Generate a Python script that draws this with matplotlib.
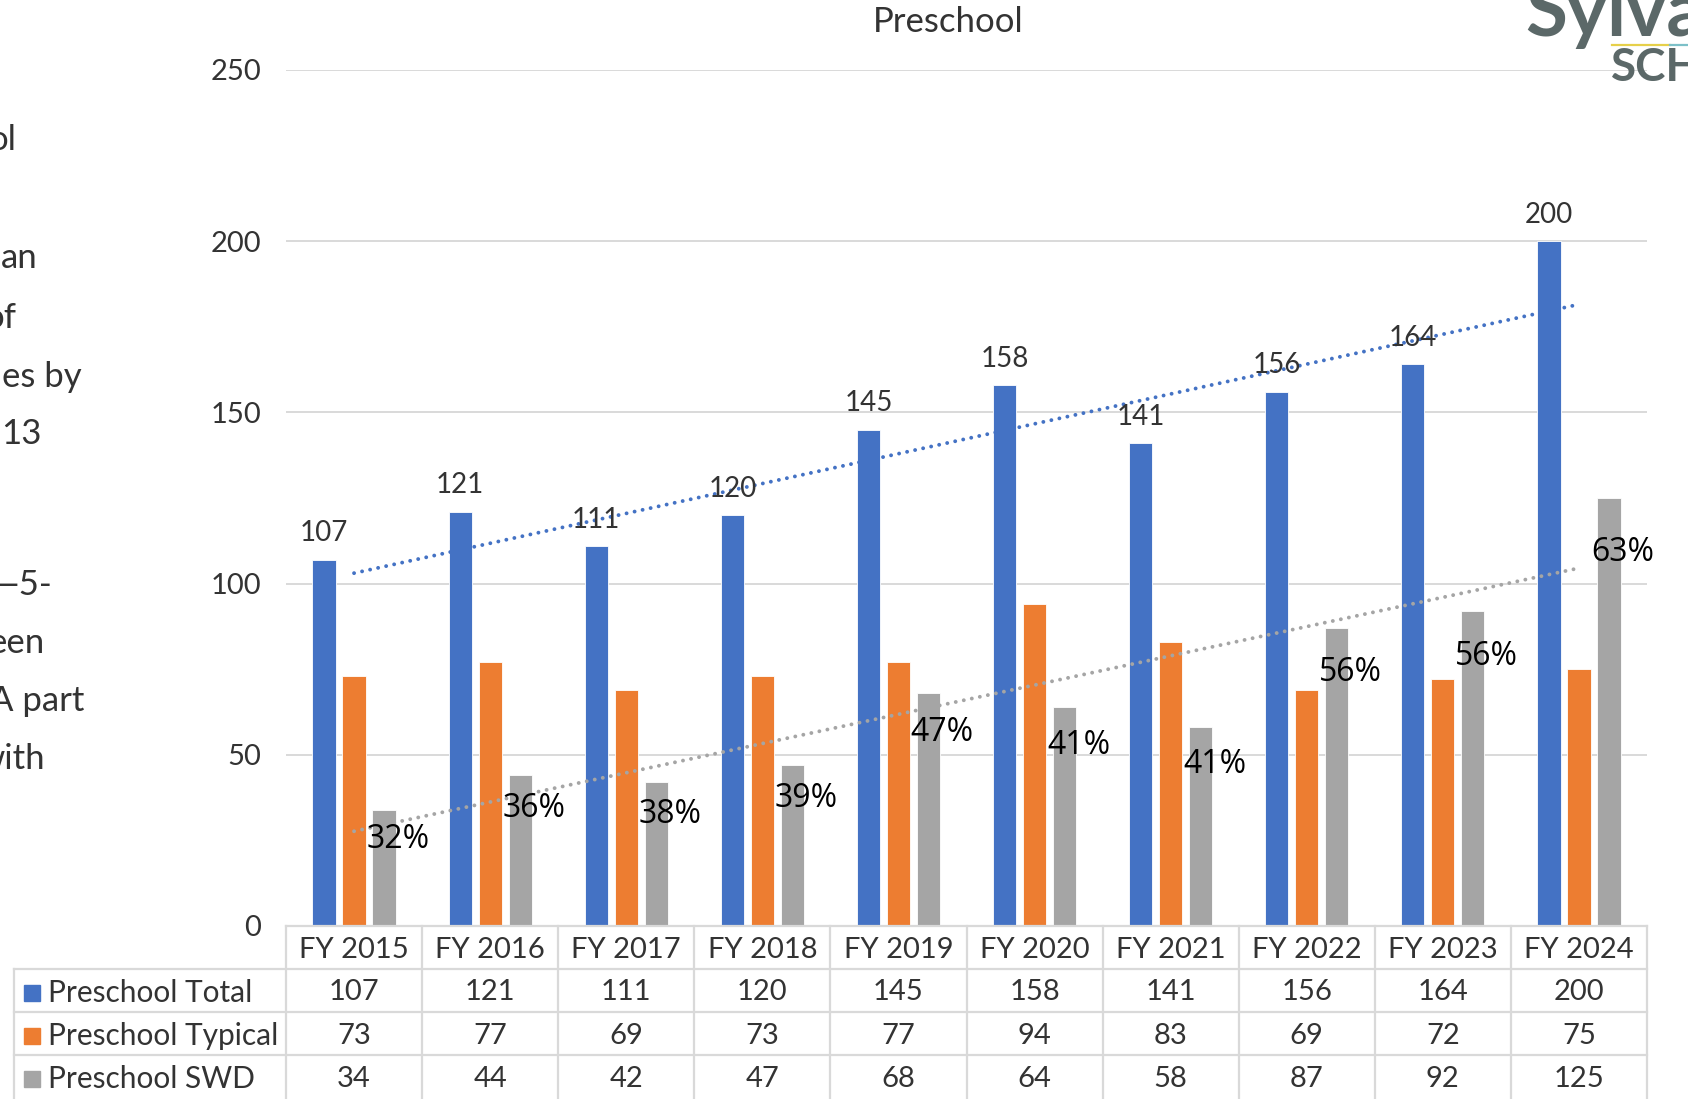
import numpy as np
import matplotlib.pyplot as plt
import matplotlib.transforms as mtransforms
from matplotlib.lines import Line2D
from matplotlib.patches import Rectangle

# Preschool enrollment by fiscal year
years = ['FY 2015', 'FY 2016', 'FY 2017', 'FY 2018', 'FY 2019',
         'FY 2020', 'FY 2021', 'FY 2022', 'FY 2023', 'FY 2024']
total = [107, 121, 111, 120, 145, 158, 141, 156, 164, 200]
typical = [73, 77, 69, 73, 77, 94, 83, 69, 72, 75]
swd = [34, 44, 42, 47, 68, 64, 58, 87, 92, 125]
series_names = ['Preschool Total', 'Preschool Typical', 'Preschool SWD']
colors = ['#4472C4', '#ED7D31', '#A5A5A5']

# cut-off slide text on the left edge
side_text = ['ol', 'an', 'of', 'es by', '13', '—5-', 'een', 'A part', 'with']
side_right = [16, 38, 16, 82, 42, 52, 45, 84, 45]
side_y = [140, 258, 318, 377, 434, 585, 643, 701, 759]

W, H = 1688, 1099
FONT = 'Lato'
TXT = '#333333'
GRID = '#d9d9d9'

fig = plt.figure(figsize=(W / 100, H / 100), dpi=100)
ax = fig.add_axes([286 / W, 1 - 926 / H, (1647 - 286) / W, (926 - 70) / H])

x = np.arange(len(years))
bw = 0.171
step = 0.2205
for i, (vals, c) in enumerate(zip([total, typical, swd], colors)):
    ax.bar(x + (i - 1) * step, vals, bw, color=c, edgecolor='white',
           linewidth=0.6, zorder=2)

ax.set_xlim(-0.5, 9.5)
ax.set_ylim(0, 250)
ax.set_yticks(range(0, 251, 50))
ax.grid(axis='y', color=GRID, lw=1.4, zorder=0)
for s in ['top', 'right', 'left']:
    ax.spines[s].set_visible(False)
ax.spines['bottom'].set_color(GRID)
ax.spines['bottom'].set_linewidth(1.6)
ax.set_xticks([])
ax.tick_params(axis='y', length=0, pad=18, labelsize=21, labelcolor=TXT)
for lab in ax.get_yticklabels():
    lab.set_fontfamily(FONT)

# linear trend lines for total and SWD
for vals, c in [(total, colors[0]), (swd, colors[2])]:
    k, b = np.polyfit(x, vals, 1)
    ax.plot(x, k * x + b, color=c, lw=2.8, linestyle=(0, (0.01, 2.1)),
            dash_capstyle='round', zorder=3)

# value labels above the total bars
for xi, v in zip(x, total):
    ax.annotate(str(v), (xi - step, v), xytext=(0, 19), textcoords='offset points',
                ha='center', va='center', fontsize=20, color=TXT,
                family=FONT, zorder=4)

# SWD share of total, placed near the grey bars
for xi, s, t in zip(x, swd, total):
    pct = int(s / t * 100 + 0.5)
    dy = -(21 + 0.27 * s) * 0.72
    ax.annotate(f'{pct}%', (xi + step, s), xytext=(10, dy), textcoords='offset points',
                ha='center', va='center', fontsize=23, color='black',
                family='Open Sans', zorder=4)

# title
fig.text(948 / W, 1 - 22 / H, 'Preschool', ha='center', va='center',
         fontsize=25, color=TXT, family=FONT)

# data table under the chart
row_edges = [926, 969, 1012, 1055, 1099]
tx = mtransforms.blended_transform_factory(ax.transData, fig.transFigure)
for xb in np.arange(-0.5, 10, 1):
    fig.add_artist(Line2D([xb, xb], [1 - 926 / H, 0], transform=tx,
                          color=GRID, lw=1.6))
fig.add_artist(Line2D([14 / W, 14 / W], [1 - 969 / H, 0], transform=fig.transFigure,
                      color=GRID, lw=1.6))
for yb in row_edges[1:4]:
    fig.add_artist(Line2D([14 / W, 1647 / W], [1 - yb / H, 1 - yb / H],
                          transform=fig.transFigure, color=GRID, lw=1.6))

yc_head = 1 - ((row_edges[0] + row_edges[1]) / 2 + 3) / H
for xi, yr in zip(x, years):
    fig.text(xi, yc_head, yr, transform=tx, ha='center', va='center',
             fontsize=21, color=TXT, family=FONT)

for r, (name, vals, c) in enumerate(zip(series_names, [total, typical, swd], colors)):
    yc = 1 - ((row_edges[r + 1] + row_edges[r + 2]) / 2 + 2) / H
    fig.add_artist(Rectangle((24 / W, yc - 8 / H), 16 / W, 16 / H,
                             transform=fig.transFigure, color=c))
    fig.text(48 / W, yc, name, ha='left', va='center', fontsize=21.5,
             color=TXT, family=FONT)
    for xi, v in zip(x, vals):
        fig.text(xi, yc, str(v), transform=tx, ha='center', va='center',
                 fontsize=21, color=TXT, family=FONT)

# left slide text fragments
for t, xr, yy in zip(side_text, side_right, side_y):
    fig.text(xr / W, 1 - yy / H, t, ha='right', va='center', fontsize=25,
             color=TXT, family=FONT)

# logo fragment, top right
fig.text(1525 / W, 1 - 36 / H, 'Sylva', ha='left', va='baseline', fontsize=55,
         color='#5b6868', family=FONT, weight='bold')
fig.add_artist(Line2D([1612 / W, 1670 / W], [1 - 45 / H, 1 - 45 / H],
                      transform=fig.transFigure, color='#e6d04a', lw=1.6))
fig.add_artist(Line2D([1670 / W, 1688 / W], [1 - 45 / H, 1 - 45 / H],
                      transform=fig.transFigure, color='#7cc0c8', lw=1.6))
fig.text(1611 / W, 1 - 81 / H, 'SCH', ha='left', va='baseline', fontsize=33,
         color='#5b6868', family=FONT, weight='bold')

fig.savefig('out.png', dpi=100)
